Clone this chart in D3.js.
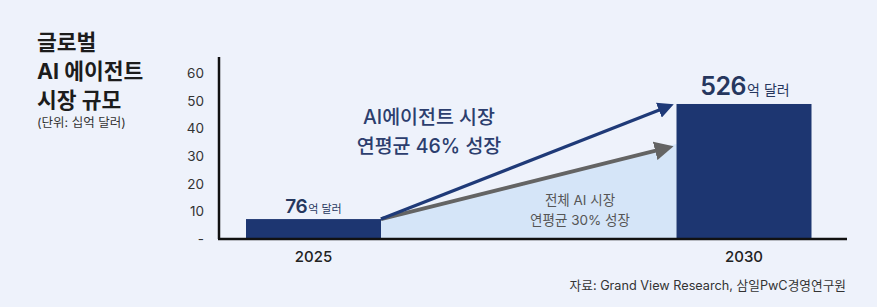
<!DOCTYPE html>
<html>
<head>
<meta charset="utf-8">
<script src="https://cdn.jsdelivr.net/npm/d3@7"></script>
<style>
  html, body { margin: 0; padding: 0; background: #eef2fb; }
  svg { display: block; font-family: Inter, "Noto Sans CJK KR", "Noto Sans", sans-serif; }
</style>
</head>
<body>
<div id="chart"></div>
<script>
// data
const YEARS = [2025, 2030];
const BAR_VALUES = [7.2, 48.8];          // bar heights as drawn (십억 달러)
const BAR_NUMBERS = ["76", "526"];       // labels: 억 달러
const Y_TICKS = [0, 10, 20, 30, 40, 50, 60];
const AI_AGENT_END = 48.8;               // navy arrow target
const AI_TOTAL_END = 33.6;               // gray arrow target
const TITLE_LINES = ["글로벌", "AI 에이전트", "시장 규모"];

const WIDTH = 877, HEIGHT = 307;

const svg = d3.select("#chart").append("svg")
  .attr("width", WIDTH)
  .attr("height", HEIGHT);

svg.append("rect").attr("width", WIDTH).attr("height", HEIGHT).attr("fill", "#eef2fb");

const y = d3.scaleLinear().domain([0, 60]).range([239, 73]);
const x = d3.scaleLinear().domain([2025, 2030]).range([313.5, 744]);
const BAR_W = 135;

// title
const title = svg.append("g").attr("fill", "#1c1c1c");
TITLE_LINES.forEach((t, i) => {
  title.append("text")
    .attr("x", 37).attr("y", 50 + i * 29)
    .attr("font-size", 21.5).attr("font-weight", 700)
    .text(t);
});
title.append("text")
  .attr("x", 37).attr("y", 127)
  .attr("font-size", 12.5).attr("fill", "#333")
  .text("(단위: 십억 달러)");

// light blue area under the gray arrow
const x1 = x(2025) + BAR_W / 2, x2 = x(2030) - BAR_W / 2;
svg.append("path")
  .attr("fill", "#d5e5f8")
  .attr("d", d3.line()([
    [x1, y(BAR_VALUES[0])], [x2, y(AI_TOTAL_END) - 2],
    [x2, y(0)], [x1, y(0)]
  ]));

// bars
svg.selectAll("rect.bar")
  .data(YEARS)
  .join("rect")
  .attr("class", "bar")
  .attr("x", d => x(d) - BAR_W / 2)
  .attr("width", BAR_W)
  .attr("y", (d, i) => y(BAR_VALUES[i]))
  .attr("height", (d, i) => y(0) - y(BAR_VALUES[i]))
  .attr("fill", "#1d3671");

// arrows
const defs = svg.append("defs");
function marker(id, color) {
  defs.append("marker")
    .attr("id", id)
    .attr("viewBox", "0 0 10 10")
    .attr("refX", 2).attr("refY", 5)
    .attr("markerWidth", 5).attr("markerHeight", 5)
    .attr("markerUnits", "strokeWidth")
    .attr("orient", "auto")
    .append("path")
    .attr("d", "M0,0 L10,5 L0,10 z")
    .attr("fill", color);
}
marker("arrow-navy", "#1f3a78");
marker("arrow-gray", "#646464");

function arrow(endValue, color, width, id) {
  const ax = x1, ay = y(BAR_VALUES[0]);
  const bx = x2 - 2, by = y(endValue);
  const len = Math.hypot(bx - ax, by - ay);
  const back = width * 5 * 0.85;
  svg.append("line")
    .attr("x1", ax).attr("y1", ay)
    .attr("x2", bx - (bx - ax) / len * back)
    .attr("y2", by - (by - ay) / len * back)
    .attr("stroke", color)
    .attr("stroke-width", width)
    .attr("marker-end", `url(#${id})`);
}
arrow(AI_TOTAL_END, "#646464", 3.8, "arrow-gray");
arrow(AI_AGENT_END, "#1f3a78", 3.2, "arrow-navy");

// axes
svg.append("line")
  .attr("x1", 219).attr("x2", 219)
  .attr("y1", 57).attr("y2", y(0))
  .attr("stroke", "#111").attr("stroke-width", 2.5);
svg.append("line")
  .attr("x1", 218).attr("x2", 847)
  .attr("y1", y(0)).attr("y2", y(0))
  .attr("stroke", "#111").attr("stroke-width", 2.5);

svg.selectAll("text.ytick")
  .data(Y_TICKS)
  .join("text")
  .attr("class", "ytick")
  .attr("x", 204)
  .attr("y", d => y(d) + 5)
  .attr("text-anchor", "end")
  .attr("font-size", 13.5)
  .attr("fill", "#333")
  .text(d => d === 0 ? "-" : d);

svg.selectAll("text.xtick")
  .data(YEARS)
  .join("text")
  .attr("class", "xtick")
  .attr("x", d => x(d))
  .attr("y", 262)
  .attr("text-anchor", "middle")
  .attr("font-size", 15)
  .attr("font-weight", 500)
  .attr("fill", "#222")
  .text(d => d);

// value labels
const SIZES = [[19, 11], [25, 14]];
YEARS.forEach((yr, i) => {
  const t = svg.append("text")
    .attr("x", x(yr) + (i ? 1 : 0))
    .attr("y", y(BAR_VALUES[i]) - (i ? 9 : 6))
    .attr("text-anchor", "middle")
    .attr("fill", "#26375e");
  t.append("tspan").attr("font-size", SIZES[i][0]).attr("font-weight", 600)
    .attr("letter-spacing", -0.5).text(BAR_NUMBERS[i]);
  t.append("tspan").attr("font-size", SIZES[i][1]).attr("dx", 1).text("억 달러");
});

// annotations
const agent = svg.append("g").attr("fill", "#2c3e6e")
  .attr("font-size", 19.5).attr("font-weight", 500).attr("text-anchor", "middle");
agent.append("text").attr("x", 429).attr("y", 124).text("AI에이전트 시장");
agent.append("text").attr("x", 429).attr("y", 153).text("연평균 46% 성장");

const total = svg.append("g").attr("fill", "#555")
  .attr("font-size", 13.5).attr("text-anchor", "middle");
total.append("text").attr("x", 580).attr("y", 205).text("전체 AI 시장");
total.append("text").attr("x", 580).attr("y", 225).text("연평균 30% 성장");

svg.append("text")
  .attr("x", 846).attr("y", 290)
  .attr("text-anchor", "end")
  .attr("font-size", 12.7)
  .attr("fill", "#333")
  .text("자료: Grand View Research, 삼일PwC경영연구원");
</script>
</body>
</html>
